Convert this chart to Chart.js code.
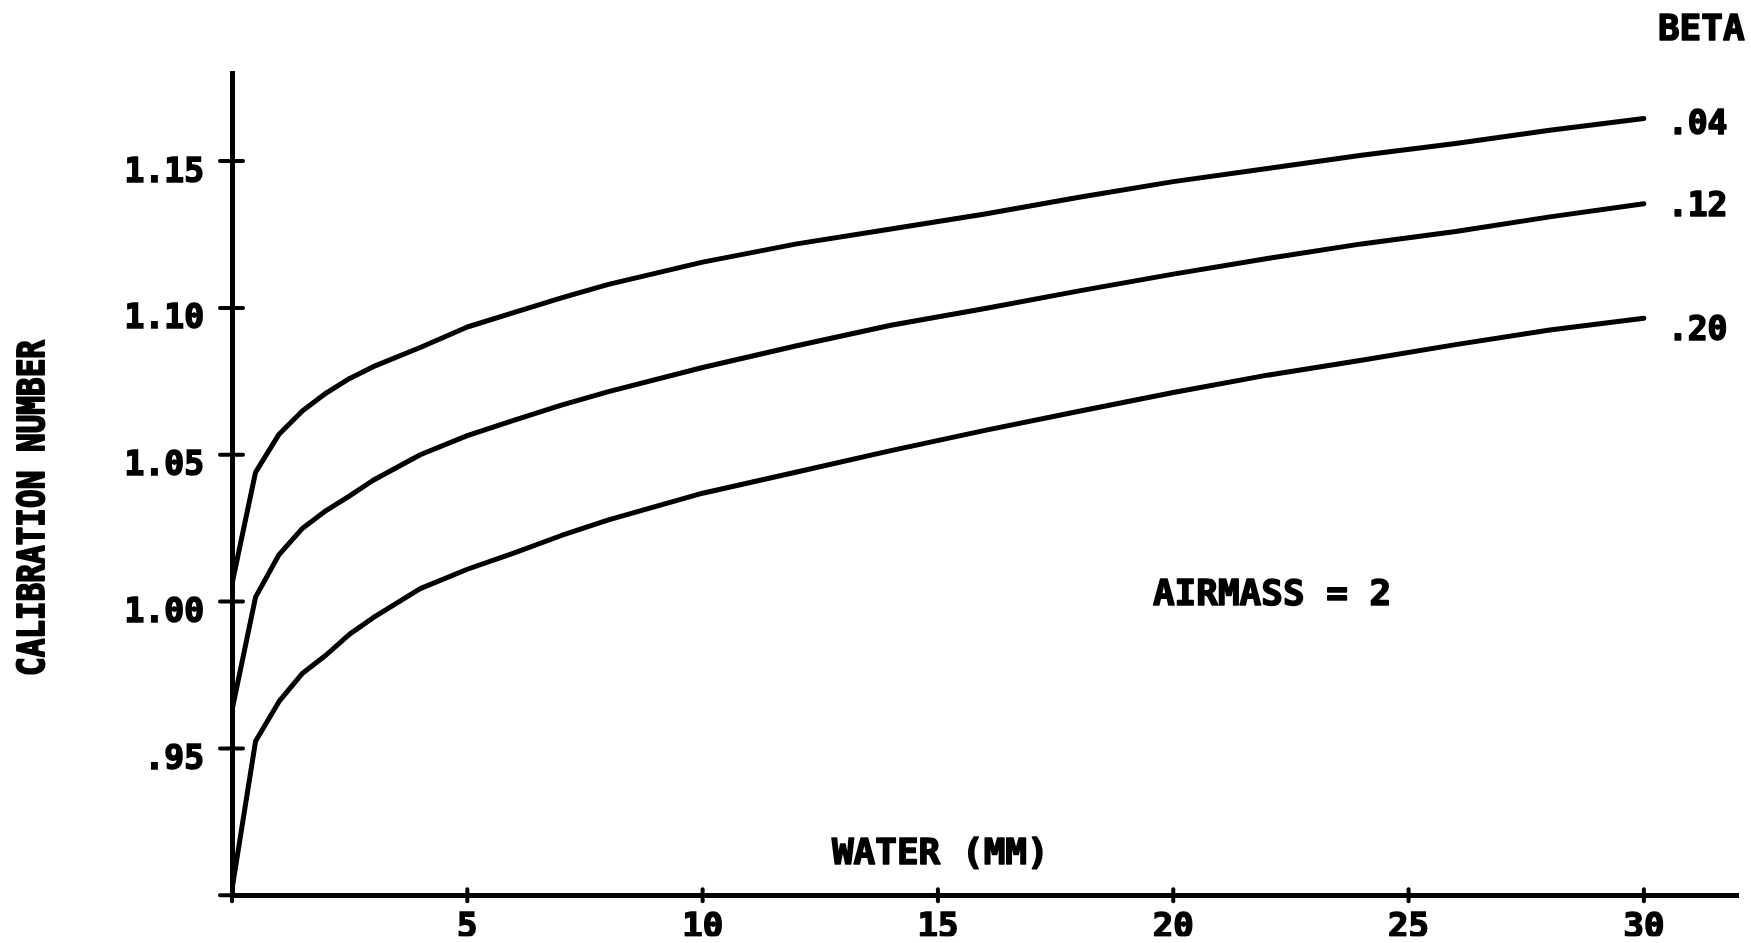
<!DOCTYPE html>
<html>
<head>
<meta charset="utf-8">
<script src="https://cdn.jsdelivr.net/npm/chart.js@4.4.1/dist/chart.umd.min.js"></script>
<style>
  html, body { margin: 0; padding: 0; background: #fff; }
  #wrap { width: 1751px; height: 943px; }
</style>
</head>
<body>
<div id="wrap"><canvas id="c" width="1751" height="943"></canvas></div>
<script>
// Precipitable water (mm)
const water = [0, 0.5, 1, 1.5, 2, 2.5, 3, 4, 5, 6, 7, 8, 10, 12, 14, 16, 18, 20, 22, 24, 26, 28, 30];

// Calibration number for each turbidity coefficient (beta), airmass 2
const beta04 = [1.006, 1.044, 1.057, 1.065, 1.071, 1.076, 1.080, 1.0865, 1.0935, 1.0985, 1.1034, 1.108, 1.1156, 1.1218, 1.1269, 1.132, 1.1377, 1.143, 1.1475, 1.152, 1.156, 1.1605, 1.1645];
const beta12 = [0.963, 1.0015, 1.016, 1.025, 1.031, 1.036, 1.0413, 1.050, 1.0565, 1.0618, 1.0669, 1.0715, 1.0797, 1.0871, 1.0941, 1.0998, 1.1058, 1.1115, 1.1168, 1.1218, 1.126, 1.131, 1.1355];
const beta20 = [0.902, 0.9524, 0.966, 0.9756, 0.9818, 0.9889, 0.9945, 1.0044, 1.011, 1.0166, 1.0225, 1.0278, 1.0369, 1.0441, 1.0514, 1.0583, 1.0648, 1.0712, 1.0771, 1.0822, 1.0875, 1.0925, 1.0965];

const betaLabels = ['.04', '.12', '.20'];
const betaSeries = [beta04, beta12, beta20];

const xTitle = 'WATER (MM)';
const yTitle = 'CALIBRATION NUMBER';
const legendTitle = 'BETA';
const noteText = 'AIRMASS = 2';

const FONT = '"DejaVu Sans Mono", "Liberation Mono", monospace';
const INK = '#000';

function toPoints(values) {
  return water.map((w, i) => ({ x: w, y: values[i] }));
}

// filled text with a thin outline, for the heavy plotter lettering
function heavyText(ctx, text, x, y) {
  ctx.strokeText(text, x, y);
  ctx.fillText(text, x, y);
}

// Tick marks across the axes, curve labels and free text
const plotText = {
  id: 'plotText',
  afterDraw(chart) {
    const { ctx, chartArea: a, scales: { x, y } } = chart;
    ctx.save();
    ctx.fillStyle = INK;
    ctx.strokeStyle = INK;
    ctx.lineCap = 'round';
    ctx.lineJoin = 'round';
    ctx.lineWidth = 4;

    y.ticks.forEach(t => {
      const py = y.getPixelForValue(t.value);
      ctx.beginPath();
      ctx.moveTo(a.left - 12, py);
      ctx.lineTo(a.left + 11, py);
      ctx.stroke();
    });
    x.ticks.forEach(t => {
      const px = x.getPixelForValue(t.value);
      ctx.beginPath();
      ctx.moveTo(px, a.bottom - 6);
      ctx.lineTo(px, a.bottom + 6);
      ctx.stroke();
    });

    ctx.textBaseline = 'alphabetic';
    ctx.lineWidth = 1.6;

    // beta value at the end of each curve
    const labelDrop = [3, 0, 10];
    ctx.font = 'bold 33px ' + FONT;
    ctx.textAlign = 'left';
    let endX = 0;
    chart.data.datasets.forEach((ds, i) => {
      const pts = chart.getDatasetMeta(i).data;
      const end = pts[pts.length - 1];
      endX = end.x;
      heavyText(ctx, ds.label, end.x + 24, end.y + labelDrop[i] + 12);
    });

    // legend heading
    ctx.font = 'bold 36px ' + FONT;
    heavyText(ctx, legendTitle, endX + 14, a.top - 33);

    // airmass note
    ctx.textAlign = 'center';
    heavyText(ctx, noteText, x.getPixelForValue(22.1), y.getPixelForValue(1.0044) + 16);

    // x-axis title, set inside the plot
    heavyText(ctx, xTitle, x.getPixelForValue(15.05), a.bottom - 50 + 19);

    // y-axis title, rotated, with tall narrow letters
    ctx.font = 'bold 31px ' + FONT;
    ctx.translate(31, 508);
    ctx.rotate(-Math.PI / 2);
    ctx.scale(1, 1.2);
    heavyText(ctx, yTitle, 0, 11);

    ctx.restore();
  }
};

new Chart(document.getElementById('c'), {
  type: 'line',
  data: {
    datasets: betaSeries.map((vals, i) => ({
      label: betaLabels[i],
      data: toPoints(vals),
      borderColor: INK,
      borderWidth: 5,
      tension: 0,
      pointRadius: 0,
      fill: false
    }))
  },
  options: {
    responsive: false,
    animation: false,
    devicePixelRatio: 1,
    layout: { padding: { top: 73, right: 13, left: 0, bottom: 0 } },
    plugins: { legend: { display: false }, tooltip: { enabled: false } },
    elements: { line: { borderCapStyle: 'round', borderJoinStyle: 'round' } },
    scales: {
      x: {
        type: 'linear',
        min: 0,
        max: 32,
        afterFit: s => { s.height = 41; },
        grid: { display: false, drawTicks: false },
        border: { display: true, color: INK, width: 5 },
        ticks: {
          stepSize: 5,
          includeBounds: false,
          autoSkip: false,
          maxRotation: 0,
          padding: 13,
          color: INK,
          textStrokeColor: INK,
          textStrokeWidth: 1.6,
          font: { family: FONT, size: 34, weight: 'bold' },
          callback: v => (v === 0 ? '' : String(v))
        }
      },
      y: {
        type: 'linear',
        min: 0.9,
        max: 1.18,
        afterFit: s => { s.width = 232; },
        grid: { display: false, drawTicks: false },
        border: { display: true, color: INK, width: 5 },
        ticks: {
          stepSize: 0.05,
          includeBounds: false,
          autoSkip: false,
          padding: 28,
          labelOffset: 12,
          color: INK,
          textStrokeColor: INK,
          textStrokeWidth: 1.6,
          font: { family: FONT, size: 33, weight: 'bold' },
          callback: v => {
            if (v < 0.925) return '';
            const s = v.toFixed(2);
            return v < 1 ? s.slice(1) : s;
          }
        }
      }
    }
  },
  plugins: [plotText]
});
</script>
</body>
</html>
